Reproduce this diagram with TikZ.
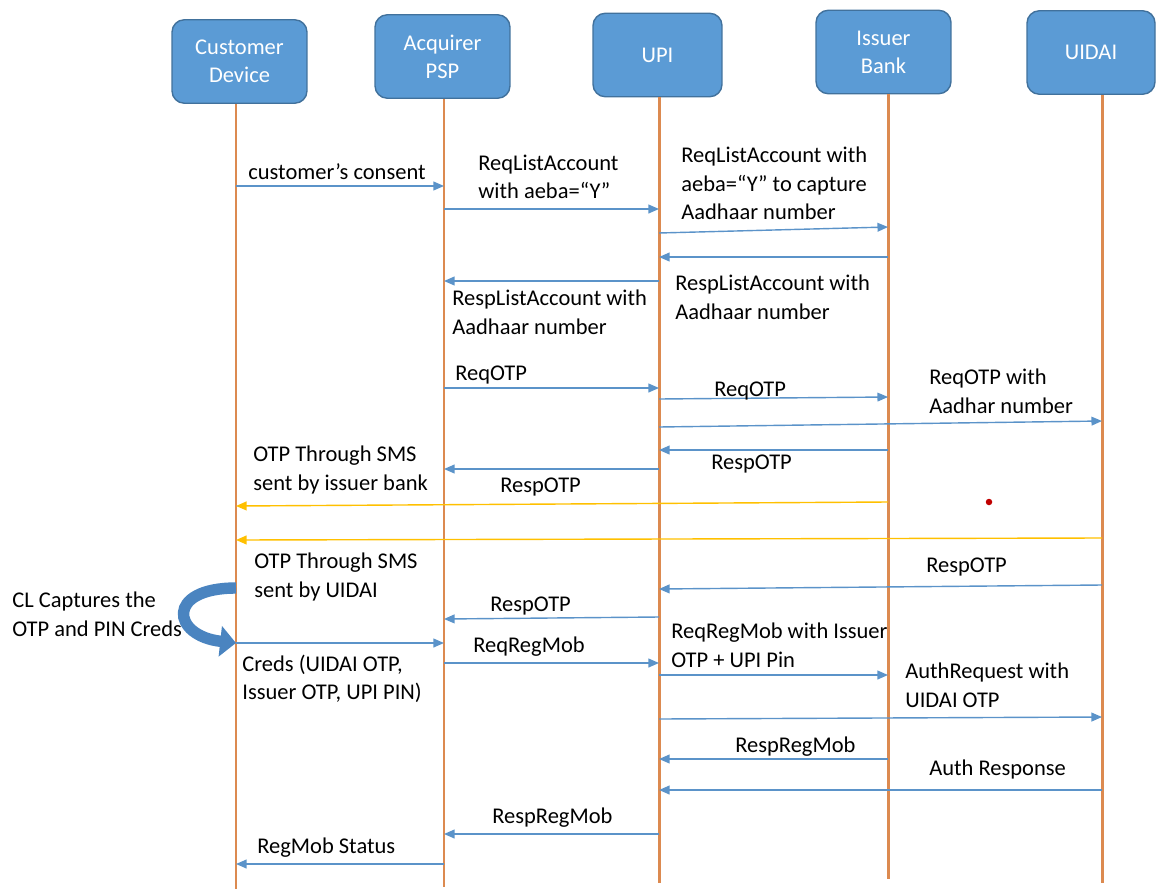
\documentclass[tikz,border=0pt]{standalone}
\usepackage{fontspec}
\setmainfont{Carlito}
\usepackage{tikz}
\usetikzlibrary{shapes,arrows,arrows.meta,positioning,calc}

\definecolor{boxblue}{HTML}{5B9BD5}
\definecolor{boxedge}{HTML}{41719C}
\definecolor{lifeorange}{HTML}{DC8A50}
\definecolor{msgblue}{HTML}{5B93C9}
\definecolor{smsyellow}{HTML}{FFC000}
\definecolor{loopblue}{HTML}{4A84C0}
\definecolor{dotred}{HTML}{C00000}

\newcommand{\lblfont}{\fontsize{12.8}{16}\selectfont}

\tikzset{
  actor/.style={draw=boxedge, fill=boxblue, line width=0.8pt, rounded corners=7pt,
    text=white, align=center, font=\lblfont, minimum width=2.7cm, minimum height=1.67cm},
  lifeline/.style={draw=lifeorange, line width=1.7pt},
  msg/.style={draw=msgblue, line width=0.8pt, -{Triangle[length=6pt,width=5pt]}},
  sms/.style={msg, draw=smsyellow},
  capture/.style={draw=loopblue, line width=6.5pt, -{Triangle[length=9pt,width=17pt]}},
  lbl/.style={anchor=north west, inner sep=0pt, align=left, font=\lblfont}
}

\begin{document}
\begin{tikzpicture}[x=0.02cm, y=-0.02cm]
\useasboundingbox (0,0) rectangle (1156,889);

% Participants
\node[actor] (cd) at (239.5,61.5) {Customer\\Device};
\node[actor] (acq) at (442.5,56.5) {Acquirer\\PSP};
\node[actor, minimum width=2.58cm] (upi) at (657.5,55) {UPI};
\node[actor] (iss) at (883.5,52) {Issuer\\Bank};
\node[actor, minimum width=2.56cm] (uid) at (1091,52.5) {UIDAI};

% Lifelines
\coordinate (cdE) at (236,889);
\coordinate (acqE) at (444,887);
\coordinate (upiE) at (659,883);
\coordinate (issE) at (888,879);
\coordinate (uidE) at (1102,883);
\draw[lifeline] (cd.south -| cdE) -- (cdE);
\draw[lifeline] (acq.south -| acqE) -- (acqE);
\draw[lifeline] (upi.south -| upiE) -- (upiE);
\draw[lifeline] (iss.south -| issE) -- (issE);
\draw[lifeline] (uid.south -| uidE) -- (uidE);

% List account
\draw[msg] (cdE |- 0,186) -- (acqE |- 0,186);
\draw[msg] (acqE |- 0,209) -- (upiE |- 0,209);
\draw[msg] (upiE |- 0,233) -- (issE |- 0,227);
\draw[msg] (issE |- 0,257) -- (upiE |- 0,257);
\draw[msg] (upiE |- 0,281) -- (acqE |- 0,281);
\node[lbl] (consent) at (248,163) {customer’s consent};
\node[lbl] (reqList) at (478,155) {ReqListAccount\\with aeba=“Y”};
\node[lbl] (reqListIss) at (681,147) {ReqListAccount with\\aeba=“Y” to capture\\Aadhaar number};
\node[lbl] (respListIss) at (675,275) {RespListAccount with\\Aadhaar number};
\node[lbl] (respList) at (452,290) {RespListAccount with\\Aadhaar number};

% OTP
\draw[msg] (acqE |- 0,388) -- (upiE |- 0,388);
\draw[msg] (upiE |- 0,399) -- (issE |- 0,397);
\draw[msg] (upiE |- 0,427) -- (uidE |- 0,421);
\draw[msg] (issE |- 0,450) -- (upiE |- 0,450);
\draw[msg] (upiE |- 0,469) -- (acqE |- 0,469);
\draw[sms] (issE |- 0,502) -- (cdE |- 0,506);
\draw[sms] (uidE |- 0,538) -- (cdE |- 0,540);
\draw[msg] (uidE |- 0,585) -- (upiE |- 0,589);
\draw[msg] (upiE |- 0,617) -- (acqE |- 0,619);
\node[lbl] (reqOtp) at (455,366) {ReqOTP};
\node[lbl] (reqOtpIss) at (714,382) {ReqOTP};
\node[lbl] (reqOtpUid) at (929,369) {ReqOTP with\\Aadhar number};
\node[lbl] (respOtpIss) at (711,455) {RespOTP};
\node[lbl] (respOtp) at (500,478) {RespOTP};
\node[lbl] (smsIss) at (253,446) {OTP Through SMS\\sent by issuer bank};
\node[lbl] (smsUid) at (254,553) {OTP Through SMS\\sent by UIDAI};
\node[lbl] (respOtpUid) at (926,558) {RespOTP};
\node[lbl] (respOtpAcq) at (490,597) {RespOTP};
\node[circle, fill=dotred, inner sep=0pt, minimum size=0.13cm] (dot) at (989,502) {};

% Capture creds
\draw[capture] (cdE |- 0,588) .. controls (165,588) and (172,636) .. (cdE |- 0,643);
\node[lbl] (capLbl) at (12,592) {CL Captures the\\OTP and PIN Creds};

% Register mobile
\draw[msg] (cdE |- 0,643) -- (acqE |- 0,643);
\draw[msg] (acqE |- 0,663) -- (upiE |- 0,663);
\draw[msg] (upiE |- 0,675) -- (issE |- 0,675);
\draw[msg] (upiE |- 0,719) -- (uidE |- 0,717);
\draw[msg] (issE |- 0,759) -- (upiE |- 0,759);
\draw[msg] (uidE |- 0,790) -- (upiE |- 0,790);
\draw[msg] (upiE |- 0,834) -- (acqE |- 0,834);
\draw[msg] (acqE |- 0,864) -- (cdE |- 0,864);
\node[lbl] (creds) at (242,655) {Creds (UIDAI OTP,\\Issuer OTP, UPI PIN)};
\node[lbl] (reqReg) at (473,637) {ReqRegMob};
\node[lbl] (reqRegIss) at (671,623) {ReqRegMob with Issuer\\OTP + UPI Pin};
\node[lbl] (authReq) at (905,663) {AuthRequest with\\UIDAI OTP};
\node[lbl] (respRegIss) at (735,737) {RespRegMob};
\node[lbl] (authResp) at (929,760) {Auth Response};
\node[lbl] (respReg) at (492,808) {RespRegMob};
\node[lbl] (regStatus) at (257,838) {RegMob Status};

\end{tikzpicture}
\end{document}
